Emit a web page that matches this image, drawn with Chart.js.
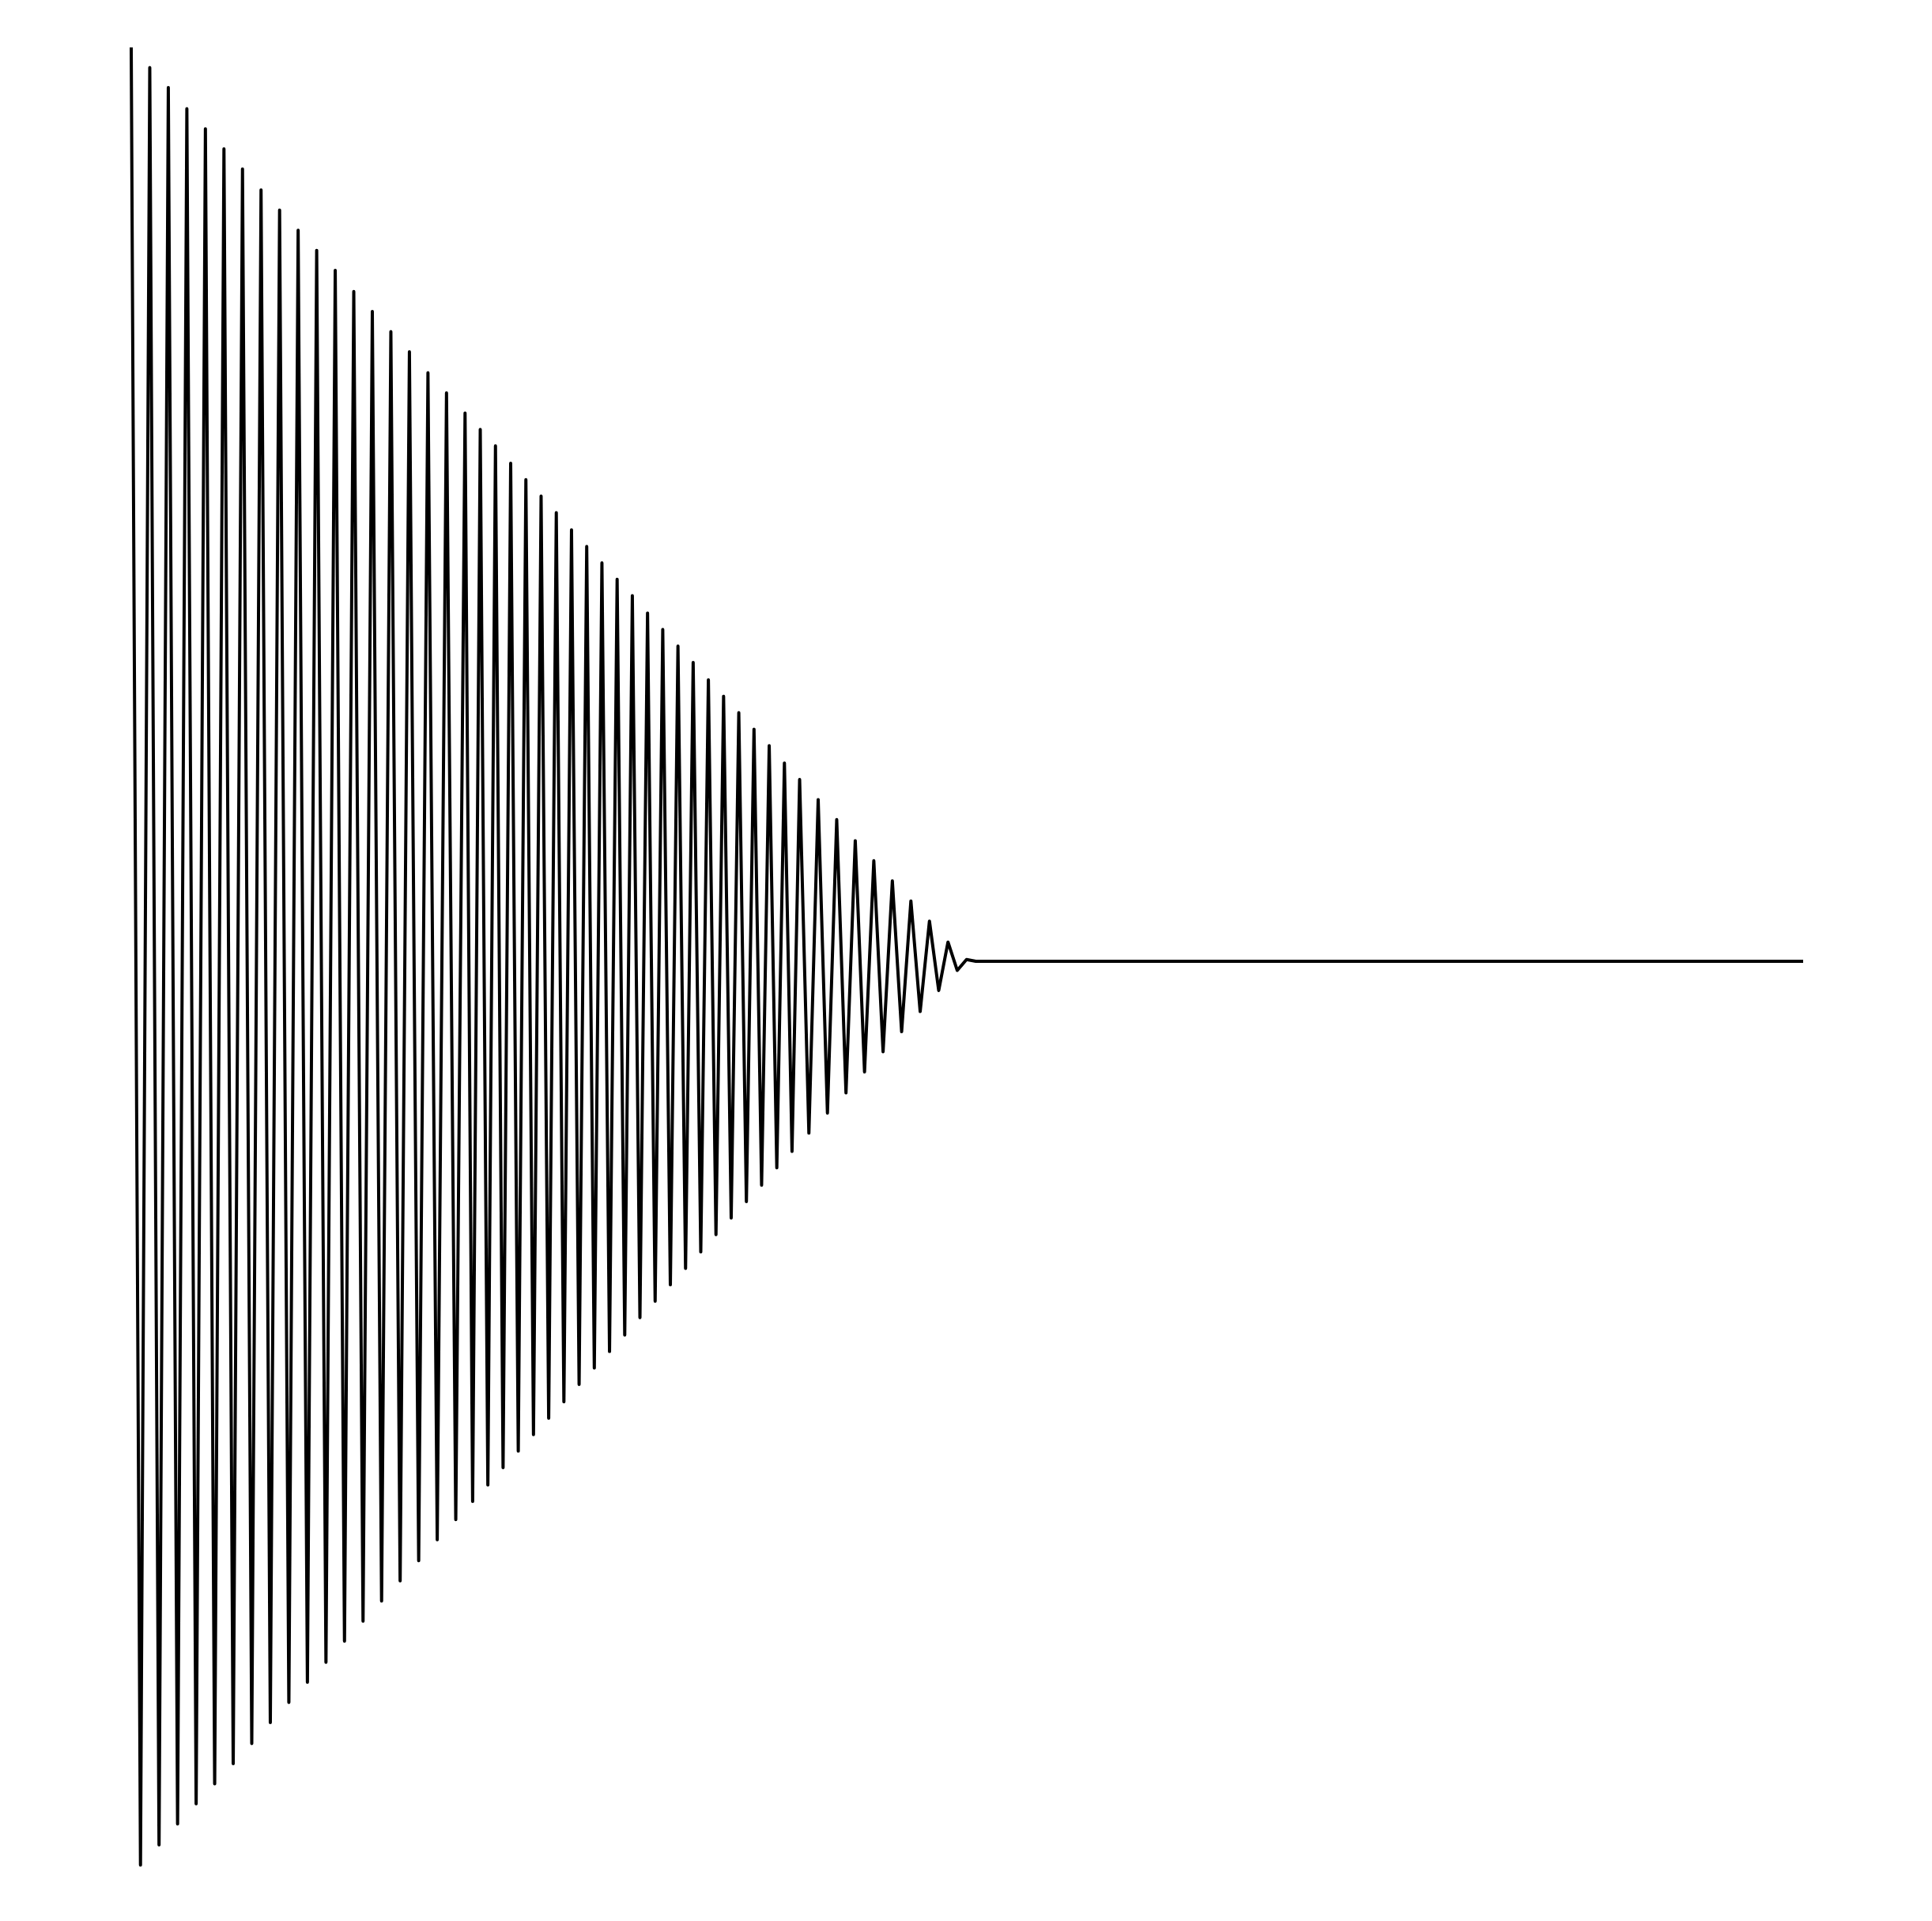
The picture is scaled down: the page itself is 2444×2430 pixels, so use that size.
<!DOCTYPE html>
<html>
<head>
<meta charset="utf-8">
<script src="https://cdn.jsdelivr.net/npm/chart.js@4"></script>
<style>
    html, body { margin: 0; padding: 0; background: #fff; }
    .wrap { width: 2444px; height: 2430px; position: relative; }
</style>
</head>
<body>
<div class="wrap"><canvas id="myChart"></canvas></div>
<script>
// sample positions along the horizontal axis
const xValues = [
    0, 1, 2, 3, 4, 5, 6, 7, 8, 9, 10, 11, 12, 13, 14, 15, 16, 17, 18, 19,
    20, 21, 22, 23, 24, 25, 26, 27, 28, 29, 30, 31, 32, 33, 34, 35, 36,
    36.82, 37.64, 38.46, 39.28, 40.10, 40.92, 41.74, 42.56, 43.38, 44.20,
    45.02, 45.84, 46.66, 47.48, 48.30, 49.12, 49.94, 50.76, 51.58, 52.40,
    53.22, 54.04, 54.86, 55.68, 56.50, 57.32, 58.14, 58.96, 59.78, 60.60,
    61.42, 62.24, 63.06, 63.88, 64.70, 65.52, 66.34, 67.16, 67.98, 68.80,
    69.62, 70.44, 71.26, 72.08,
    73.08, 74.08, 75.08, 76.08, 77.08, 78.08, 79.08, 80.08, 81.08, 82.08,
    83.08, 84.08, 85.08, 86.08, 87.08, 88.08, 89.08, 90.08, 91.08, 180.3,
];

// signal values
const yValues = [
    1.000, -0.989, 0.978, -0.967, 0.956, -0.944, 0.933, -0.922, 0.911, -0.900,
    0.889, -0.878, 0.867, -0.856, 0.844, -0.833, 0.822, -0.811, 0.800, -0.789,
    0.778, -0.767, 0.756, -0.744, 0.733, -0.722, 0.711, -0.700, 0.689, -0.678,
    0.667, -0.656, 0.644, -0.633, 0.622, -0.611, 0.600,
    -0.591, 0.582, -0.573, 0.564, -0.554, 0.545, -0.536, 0.527, -0.518, 0.509,
    -0.500, 0.491, -0.482, 0.472, -0.463, 0.454, -0.445, 0.436, -0.427, 0.418,
    -0.409, 0.400, -0.390, 0.381, -0.372, 0.363, -0.354, 0.345, -0.336, 0.327,
    -0.318, 0.308, -0.299, 0.290, -0.281, 0.272, -0.263, 0.254, -0.245, 0.236,
    -0.226, 0.217, -0.208, 0.199,
    -0.188, 0.177, -0.166, 0.155, -0.144, 0.132, -0.121, 0.110, -0.099, 0.088,
    -0.077, 0.066, -0.055, 0.044, -0.032, 0.021, -0.010, 0.002, 0, 0,
];

const points = xValues.map((x, i) => ({ x: x, y: yValues[i] }));

const data = {
    datasets: [{
        data: points,
        borderColor: '#000',
        backgroundColor: '#000',
        borderWidth: 4,
        borderJoinStyle: 'round',
        pointRadius: 0,
        tension: 0,
        fill: false,
        clip: false,
    }]
};

const options = {
    responsive: true,
    maintainAspectRatio: false,
    animation: false,
    layout: {
        padding: { left: 166, right: 163, top: 60, bottom: 58 }
    },
    plugins: {
        legend: { display: false },
        tooltip: { enabled: false }
    },
    scales: {
        x: {
            type: 'linear',
            min: 0,
            max: 180.3,
            display: false,
        },
        y: {
            min: -1,
            max: 1,
            display: false,
        }
    }
};

const myChart = new Chart(
    document.getElementById('myChart'),
    { type: 'line', data, options }
);
</script>
</body>
</html>
